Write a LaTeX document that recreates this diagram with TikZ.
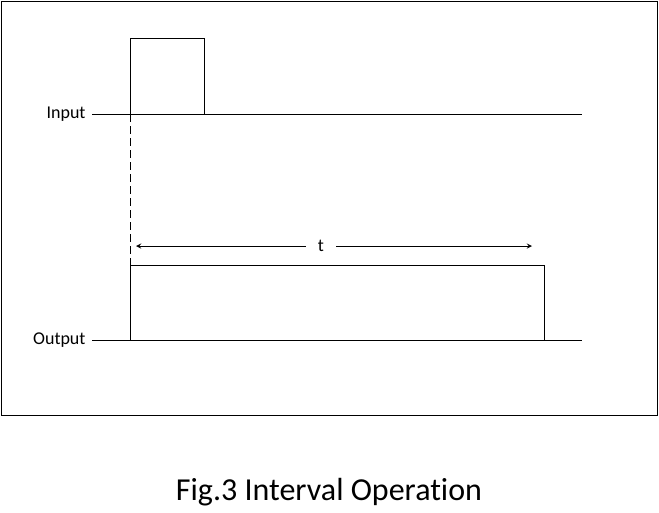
\documentclass[tikz,border=0pt]{standalone}
\usepackage{fontspec}
\setmainfont{Carlito}[Ligatures=NoCommon]
\begin{document}
\begin{tikzpicture}[>=stealth, x=0.75pt, y=-0.75pt, line width=0.75pt,
    label/.style={anchor=east, inner sep=0pt, font=\fontsize{13.5}{16}\selectfont},
    signal/.style={draw, line width=0.75pt}]
    \useasboundingbox (0,0) rectangle (659,512);

    % frame
    \draw (1,1) rectangle (657,415);

    % input
    \node[label] (inlab) at (86,114) {Input};
    \coordinate (in0) at (92,114);
    \coordinate (inrise) at (130,114);
    \coordinate (inend) at (582,114);
    \draw[signal] (in0) -- (inend);
    \draw[signal] (inrise) rectangle ++(74,-76);

    % output
    \node[label] (outlab) at (86,340) {Output};
    \coordinate (out0) at (92,340);
    \coordinate (outrise) at (130,340);
    \coordinate (outend) at (582,340);
    \draw[signal] (out0) -- (outend);
    \draw[signal] (outrise) rectangle ++(414,-75);

    % start marker
    \coordinate (outtop) at (130,265);
    \draw[dashed, dash pattern=on 6pt off 3pt] (inrise) -- (outtop);

    % interval
    \node[inner sep=0pt, minimum width=22pt, minimum height=12pt,
        font=\fontsize{13.5}{16}\selectfont] (t) at (321,246) {t};
    \coordinate (tleft) at (136,246);
    \coordinate (tright) at (532,246);
    \draw[->] (t) -- (tleft);
    \draw[->] (t) -- (tright);

    % caption
    \node[font=\fontsize{24}{28}\selectfont] (caption) at (329,492) {Fig.3 Interval Operation};
\end{tikzpicture}
\end{document}
